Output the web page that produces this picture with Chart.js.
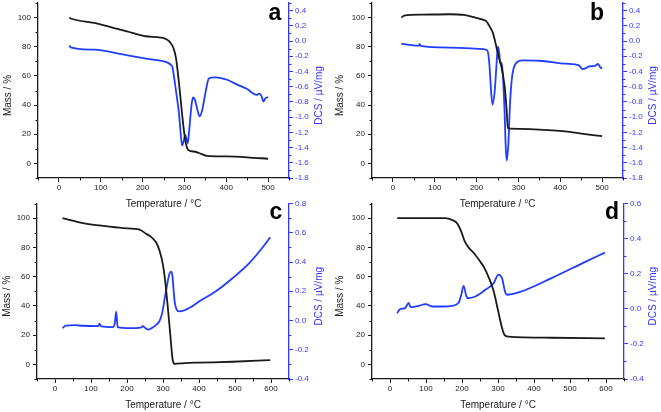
<!DOCTYPE html>
<html><head><meta charset="utf-8">
<script src="https://cdn.jsdelivr.net/npm/chart.js@4.4.1/dist/chart.umd.min.js"></script>
<style>
html,body{margin:0;padding:0;background:#fff;width:661px;height:412px;overflow:hidden;position:relative}
canvas{position:absolute}
</style></head><body>
<canvas id="ca" width="330" height="212" style="left:0;top:0;width:330px;height:212px"></canvas>
<canvas id="cb" width="331" height="212" style="left:330px;top:0;width:331px;height:212px"></canvas>
<canvas id="cc" width="330" height="216" style="left:0;top:196px;width:330px;height:216px"></canvas>
<canvas id="cd" width="331" height="216" style="left:330px;top:196px;width:331px;height:216px"></canvas>
<script>
// ---- Panel a ----
const aMassT = [25, 30, 84, 130, 163, 190, 207, 243, 258, 266, 274, 280, 287, 293, 297, 302, 306, 310, 326, 340, 354, 400, 450, 500];
const aMass  = [100, 99.2, 96.3, 93, 90.6, 88.3, 87.2, 86.3, 85, 83, 79, 72, 55, 38, 27, 16, 11, 9, 8, 6.5, 5.2, 4.8, 4.2, 3.2];
const aDscT  = [25, 28, 84, 164, 220, 251, 262, 268, 271, 275, 279, 283, 287, 291, 294.5, 298, 302, 305, 308, 311, 315, 318, 321, 325, 330, 336.5, 342, 348, 353, 358, 365, 374, 390, 402, 425, 449, 473, 479, 484, 489, 494, 500];
const aDsc   = [-0.057, -0.083, -0.114, -0.189, -0.24, -0.268, -0.29, -0.315, -0.334, -0.465, -0.62, -0.78, -0.95, -1.21, -1.375, -1.32, -1.234, -1.29, -1.343, -1.2, -0.95, -0.8, -0.742, -0.77, -0.88, -0.99, -0.92, -0.75, -0.6, -0.496, -0.48, -0.478, -0.49, -0.509, -0.57, -0.628, -0.707, -0.69, -0.72, -0.795, -0.75, -0.737];
// ---- Panel b ----
const bMassT = [20, 27, 72, 136, 170, 199, 215, 223, 231, 239, 247, 253, 259, 267, 271, 275, 280, 326, 406, 450, 500];
const bMass  = [100, 101.3, 102, 102.3, 101.8, 99.8, 98.6, 97.5, 94, 89.5, 80.3, 73, 66.6, 53, 40, 24.4, 23.8, 23.5, 22.1, 20.5, 18.7];
const bDscT  = [20, 40, 62, 64, 67, 112, 215, 225, 228, 231, 235, 238, 243.6, 248.4, 251, 254, 256.4, 259.5, 262.6, 266.7, 270, 272.3, 276, 280, 285, 294.4, 310, 350, 413.5, 445, 453, 460, 469, 480, 485, 490, 494, 497, 500];
const bDsc   = [-0.035, -0.05, -0.06, -0.04, -0.065, -0.083, -0.105, -0.12, -0.17, -0.334, -0.685, -0.835, -0.64, -0.246, -0.075, -0.15, -0.29, -0.28, -0.42, -0.904, -1.43, -1.57, -1.343, -0.816, -0.465, -0.29, -0.255, -0.259, -0.298, -0.32, -0.368, -0.36, -0.334, -0.33, -0.32, -0.30, -0.33, -0.355, -0.35];
// ---- Panel c ----
const cMassT = [21, 78, 124, 189, 235, 253, 265, 281, 290, 299.5, 306, 313, 320, 327, 333, 360, 400, 493, 598];
const cMass  = [100, 96.6, 95, 93.2, 92.2, 89.3, 87.5, 83.3, 78, 68.5, 57, 40, 21, 3, 0.3, 0.9, 1.2, 1.8, 2.9];
const cDscT  = [21, 30, 55, 78, 120, 124, 128, 161, 166, 170, 174, 207, 238, 244, 250, 260, 270, 281, 290, 295, 300, 304, 309, 313, 318, 322, 326, 329, 333, 338, 345, 360, 380, 400, 446, 493, 539, 567, 598];
const cDsc   = [-0.052, -0.035, -0.032, -0.036, -0.038, -0.022, -0.04, -0.045, -0.02, 0.06, -0.045, -0.052, -0.048, -0.038, -0.05, -0.062, -0.05, -0.03, -0.005, 0.027, 0.08, 0.141, 0.21, 0.266, 0.32, 0.334, 0.31, 0.22, 0.118, 0.075, 0.062, 0.07, 0.095, 0.13, 0.198, 0.289, 0.391, 0.47, 0.569];
// ---- Panel d ----
const dMassT = [20, 154, 172, 186, 198, 207, 218, 235, 250, 262, 275, 288, 300, 310, 318, 329, 449, 597];
const dMass  = [100, 100, 98.8, 96.6, 90.8, 84.5, 80, 75.5, 70.5, 66, 59, 50, 37, 26, 20.2, 19, 18.2, 17.8];
const dDscT  = [20, 26, 30, 42, 52, 57, 80, 99, 117, 150, 173, 191, 198, 204.5, 211, 216, 237, 265, 288, 301, 306, 312, 317, 321, 325, 357, 449, 541, 597];
const dDsc   = [-0.025, -0.005, 0.0, 0.004, 0.034, 0.01, 0.017, 0.027, 0.013, 0.013, 0.017, 0.036, 0.08, 0.131, 0.08, 0.06, 0.07, 0.108, 0.146, 0.195, 0.19, 0.169, 0.12, 0.089, 0.08, 0.093, 0.175, 0.266, 0.32];

// ---- Tick labels ----
const tempTicksAB = [0, 100, 200, 300, 400, 500];
const tempMinorAB = [-50, 50, 150, 250, 350, 450, 550];
const tempTicksCD = [0, 100, 200, 300, 400, 500, 600];
const tempMinorCD = [-50, 50, 150, 250, 350, 450, 550, 650];
const massTicks = [0, 20, 40, 60, 80, 100];
const massMinor = [-10, 10, 30, 50, 70, 90, 110];
const dscTicksAB = [-1.8, -1.6, -1.4, -1.2, -1.0, -0.8, -0.6, -0.4, -0.2, 0.0, 0.2, 0.4];
const dscMinorAB = [-1.7, -1.5, -1.3, -1.1, -0.9, -0.7, -0.5, -0.3, -0.1, 0.1, 0.3, 0.5];
const dscTicksC = [-0.4, -0.2, 0.0, 0.2, 0.4, 0.6, 0.8];
const dscMinorC = [-0.3, -0.1, 0.1, 0.3, 0.5, 0.7];
const dscTicksD = [-0.4, -0.2, 0.0, 0.2, 0.4, 0.6];
const dscMinorD = [-0.3, -0.1, 0.1, 0.3, 0.5];

const BLACK = '#1a1a1a';
const AXBLUE = '#3535ff';
const LINEBLUE = '#1f3cff';
const FONT = "'Liberation Sans', Arial, sans-serif";

function pts(xs, ys) { return xs.map((x, i) => ({x: x, y: ys[i]})); }

function makePanel(id, p) {
  const W = p.W, H = p.H, pl = p.plot;
  const minorPlugin = {
    id: 'minor_' + id,
    afterDraw(chart) {
      const ctx = chart.ctx;
      const ca = chart.chartArea;
      ctx.save();
      ctx.lineWidth = 1;
      const sx = chart.scales.x;
      ctx.strokeStyle = BLACK;
      ctx.beginPath();
      p.xMinor.forEach(v => { const px = Math.round(sx.getPixelForValue(v)) + 0.5; ctx.moveTo(px, ca.bottom); ctx.lineTo(px, ca.bottom + 2.5); });
      const sy = chart.scales.y;
      massMinor.forEach(v => { const py = Math.round(sy.getPixelForValue(v)) + 0.5; ctx.moveTo(ca.left, py); ctx.lineTo(ca.left - 2.5, py); });
      ctx.stroke();
      const sy1 = chart.scales.y1;
      ctx.strokeStyle = AXBLUE;
      ctx.beginPath();
      p.dMinor.forEach(v => { const py = Math.round(sy1.getPixelForValue(v)) + 0.5; ctx.moveTo(ca.right, py); ctx.lineTo(ca.right + 2.5, py); });
      ctx.stroke();
      const midY = (ca.top + ca.bottom) / 2 + 5;
      ctx.font = '10px ' + FONT;
      ctx.textAlign = 'center';
      ctx.textBaseline = 'middle';
      ctx.fillStyle = BLACK;
      ctx.save(); ctx.translate(p.leftTitleX, midY); ctx.rotate(-Math.PI / 2); ctx.fillText('Mass / %', 0, 0); ctx.restore();
      ctx.fillStyle = AXBLUE;
      ctx.save(); ctx.translate(p.rightTitleX, midY); ctx.rotate(-Math.PI / 2); ctx.fillText('DCS / \u00b5V/mg', 0, 0); ctx.restore();
      ctx.fillStyle = BLACK;
      ctx.fillText('Temperature / \u00b0C', (ca.left + ca.right) / 2, ca.bottom + 26);
      ctx.font = 'bold 23px ' + FONT;
      ctx.textBaseline = 'alphabetic';
      ctx.fillStyle = '#000';
      ctx.fillText(p.letter, p.letterX, p.letterY);
      ctx.restore();
    }
  };
  const tickFont = {family: FONT, size: 8};
  new Chart(document.getElementById(id), {
    type: 'line',
    data: {
      datasets: [
        {data: pts(p.massT, p.mass), yAxisID: 'y', borderColor: BLACK, borderWidth: 1.8, pointRadius: 0, cubicInterpolationMode: 'monotone', fill: false},
        {data: pts(p.dscT, p.dsc), yAxisID: 'y1', borderColor: LINEBLUE, borderWidth: 1.8, pointRadius: 0, cubicInterpolationMode: 'monotone', fill: false}
      ]
    },
    options: {
      responsive: false, animation: false, devicePixelRatio: 1,
      layout: {padding: {top: pl.t, left: 0, right: 0, bottom: 0}},
      plugins: {legend: {display: false}, tooltip: {enabled: false}},
      scales: {
        x: {
          type: 'linear', position: 'bottom', min: p.xMin, max: p.xMax,
          afterBuildTicks: s => { s.ticks = p.xTicks.map(v => ({value: v})); },
          afterFit: s => { s.height = H - pl.b; s.paddingLeft = 0; s.paddingRight = 0; },
          ticks: {font: tickFont, color: BLACK, padding: 1, maxRotation: 0, autoSkip: false, callback: v => String(v)},
          grid: {display: true, drawOnChartArea: false, drawTicks: true, tickLength: 4, color: BLACK, lineWidth: 1},
          border: {display: true, color: BLACK, width: 1.3}
        },
        y: {
          type: 'linear', position: 'left', min: -10, max: 110,
          afterBuildTicks: s => { s.ticks = massTicks.map(v => ({value: v})); },
          afterFit: s => { s.width = pl.l; s.paddingTop = 0; s.paddingBottom = 0; },
          ticks: {font: tickFont, color: BLACK, padding: 3, autoSkip: false, callback: v => String(v)},
          grid: {display: true, drawOnChartArea: false, drawTicks: true, tickLength: 4, color: BLACK, lineWidth: 1},
          border: {display: true, color: BLACK, width: 1.3}
        },
        y1: {
          type: 'linear', position: 'right', min: p.dMin, max: p.dMax,
          afterBuildTicks: s => { s.ticks = p.dTicks.map(v => ({value: v})); },
          afterFit: s => { s.width = W - pl.r; s.paddingTop = 0; s.paddingBottom = 0; },
          ticks: {font: tickFont, color: AXBLUE, padding: 2, autoSkip: false, callback: v => Number(v).toFixed(1)},
          grid: {display: true, drawOnChartArea: false, drawTicks: true, tickLength: 4, color: AXBLUE, lineWidth: 1},
          border: {display: true, color: AXBLUE, width: 1.3}
        }
      }
    },
    plugins: [minorPlugin]
  });
}

makePanel('ca', {W: 330, H: 212, plot: {l: 38, r: 289, t: 3, b: 178},
  massT: aMassT, mass: aMass, dscT: aDscT, dsc: aDsc,
  xMin: -50, xMax: 550, xTicks: tempTicksAB, xMinor: tempMinorAB,
  dMin: -1.8, dMax: 0.5, dTicks: dscTicksAB, dMinor: dscMinorAB,
  leftTitleX: 8, rightTitleX: 319, letter: 'a', letterX: 275, letterY: 20});
makePanel('cb', {W: 331, H: 212, plot: {l: 42, r: 293, t: 3, b: 178},
  massT: bMassT, mass: bMass, dscT: bDscT, dsc: bDsc,
  xMin: -50, xMax: 550, xTicks: tempTicksAB, xMinor: tempMinorAB,
  dMin: -1.8, dMax: 0.5, dTicks: dscTicksAB, dMinor: dscMinorAB,
  leftTitleX: 10.5, rightTitleX: 323, letter: 'b', letterX: 267, letterY: 20});
makePanel('cc', {W: 330, H: 216, plot: {l: 37, r: 289, t: 7.5, b: 183},
  massT: cMassT, mass: cMass, dscT: cDscT, dsc: cDsc,
  xMin: -50, xMax: 650, xTicks: tempTicksCD, xMinor: tempMinorCD,
  dMin: -0.4, dMax: 0.8, dTicks: dscTicksC, dMinor: dscMinorC,
  leftTitleX: 7, rightTitleX: 319.5, letter: 'c', letterX: 276, letterY: 23});
makePanel('cd', {W: 331, H: 216, plot: {l: 42, r: 294, t: 7.5, b: 183},
  massT: dMassT, mass: dMass, dscT: dDscT, dsc: dDsc,
  xMin: -50, xMax: 650, xTicks: tempTicksCD, xMinor: tempMinorCD,
  dMin: -0.4, dMax: 0.6, dTicks: dscTicksD, dMinor: dscMinorD,
  leftTitleX: 10, rightTitleX: 323.5, letter: 'd', letterX: 282, letterY: 23});
</script>
</body></html>
